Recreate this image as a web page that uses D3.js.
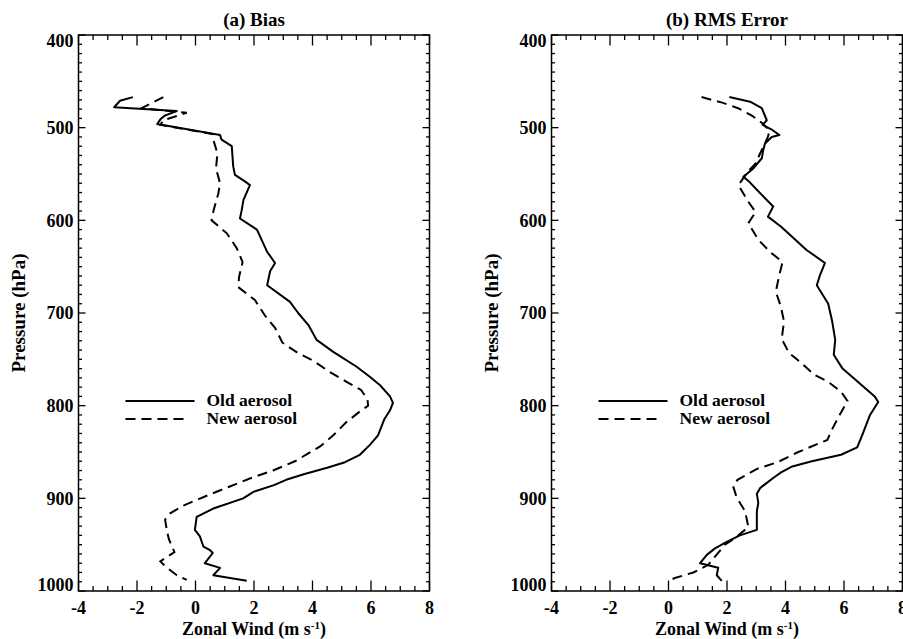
<!DOCTYPE html>
<html>
<head>
<meta charset="utf-8">
<script src="https://cdn.jsdelivr.net/npm/d3@7"></script>
<style>
  body { margin: 0; background: #fff; }
  svg { display: block; }
  text { font-family: "Liberation Serif", "Times New Roman", serif; font-weight: bold; fill: #000; }
</style>
</head>
<body>
<div id="chart"></div>
<script>
'use strict';

// Pressure levels (hPa) and zonal wind (m/s), as [p, u] pairs
const biasOld = [
  [467, -2.14], [471, -2.58], [478, -2.78], [482, -0.64], [487, -1.05], [491, -1.2],
  [496, -1.31], [508, 0.84], [513, 0.89], [520, 1.24], [542, 1.29], [551, 1.35],
  [558, 1.69], [562, 1.86], [578, 1.64], [589, 1.58], [598, 1.52], [610, 2.1],
  [634, 2.45], [646, 2.72], [655, 2.55], [670, 2.45], [688, 3.23], [700, 3.51],
  [713, 3.86], [729, 4.14], [742, 4.71], [758, 5.51], [769, 5.97], [778, 6.31],
  [790, 6.65], [797, 6.75], [805, 6.65], [815, 6.45], [832, 6.24], [842, 5.97],
  [853, 5.62], [861, 5.11], [867, 4.5], [874, 3.7], [880, 3.1], [886, 2.66],
  [893, 1.98], [900, 1.63], [911, 0.61], [920, 0.04], [934, -0.02], [941, 0.15],
  [952, 0.27], [956, 0.5], [959, 0.59], [970, 0.32], [975, 0.84], [983, 0.61],
  [989, 1.75]
];
const biasNew = [
  [467, -1.1], [479, -1.84], [484, -0.3], [492, -1.1], [497, -1.2], [507, 0.6],
  [513, 0.61], [528, 0.75], [544, 0.7], [560, 0.84], [571, 0.78], [589, 0.62],
  [600, 0.55], [614, 1.07], [630, 1.41], [645, 1.61], [661, 1.49], [672, 1.46],
  [686, 2.03], [703, 2.38], [716, 2.72], [732, 2.97], [743, 3.49], [752, 4.05],
  [763, 4.56], [774, 5.15], [783, 5.66], [793, 5.88], [800, 5.9], [807, 5.59],
  [818, 5.15], [832, 4.71], [844, 4.26], [860, 3.4], [870, 2.65], [878, 1.9],
  [888, 1.11], [898, 0.32], [908, -0.43], [917, -0.91], [923, -1.04], [936, -0.97],
  [944, -0.91], [958, -0.72], [968, -1.2], [974, -1.01], [983, -0.64], [988, -0.3]
];
const rmsOld = [
  [467, 2.08], [472, 2.79], [479, 3.19], [492, 3.36], [497, 3.22], [502, 3.53],
  [508, 3.79], [510, 3.53], [517, 3.3], [524, 3.24], [533, 3.19], [544, 2.9],
  [553, 2.56], [558, 2.75], [567, 3.02], [578, 3.36], [585, 3.58], [596, 3.4],
  [607, 3.85], [632, 4.72], [646, 5.35], [659, 5.18], [670, 5.07], [690, 5.46],
  [708, 5.59], [729, 5.7], [745, 5.65], [760, 5.95], [775, 6.5], [790, 7.05],
  [796, 7.17], [810, 6.89], [832, 6.62], [845, 6.45], [853, 5.9], [860, 4.9],
  [866, 4.2], [872, 3.85], [878, 3.58], [889, 3.13], [895, 3.02], [905, 3.07],
  [914, 3.02], [934, 3.02], [940, 2.44], [947, 1.99], [954, 1.59], [961, 1.31],
  [970, 1.08], [975, 1.7], [983, 1.65], [989, 1.82]
];
const rmsNew = [
  [467, 1.13], [473, 1.84], [479, 2.38], [487, 2.85], [495, 3.2], [503, 3.45],
  [510, 3.4], [520, 3.25], [530, 3.1], [537, 3.03], [548, 2.7], [562, 2.39],
  [580, 2.73], [591, 2.98], [603, 2.73], [621, 3.07], [634, 3.47], [645, 3.9],
  [660, 3.78], [677, 3.67], [693, 3.84], [709, 3.95], [728, 3.87], [743, 4.12],
  [755, 4.58], [767, 5.0], [774, 5.45], [785, 5.9], [795, 6.12], [810, 5.85],
  [825, 5.6], [837, 5.43], [850, 4.44], [861, 3.73], [868, 3.04], [880, 2.36],
  [887, 2.21], [899, 2.33], [914, 2.62], [931, 2.73], [943, 2.27], [950, 1.93],
  [963, 1.59], [972, 1.35], [980, 0.85], [986, 0.22], [989, 0.0]
];

const panelTitles = ["(a) Bias", "(b) RMS Error"];
const legendNames = ["Old aerosol", "New aerosol"];
const xTicks = [-4, -2, 0, 2, 4, 6, 8];
const yTicks = [400, 500, 600, 700, 800, 900, 1000];

const width = 903, height = 639;
const plotTop = 35, plotBottom = 591;
const panelLefts = [78.5, 551.5];
const panelWidth = 351;
const dash = "10,6";

const svg = d3.select("#chart").append("svg")
  .attr("width", width)
  .attr("height", height);

function drawPanel(left, title, oldData, newData) {
  const x = d3.scaleLinear().domain([-4, 8]).range([left, left + panelWidth]);
  const y = d3.scaleLinear().domain([400, 1000]).range([plotTop, plotBottom]);
  const g = svg.append("g");

  // minor ticks every 0.5 m/s and 10 hPa
  const xMinor = d3.range(-4, 8.01, 0.5).filter(v => v % 2 !== 0);
  const yMinor = d3.range(400, 1001, 10).filter(v => v % 100 !== 0);

  const tickG = g.append("g").attr("stroke", "#000").attr("stroke-width", 1.3);
  const xt = xTicks.map(v => [v, 10.5]).concat(xMinor.map(v => [v, 5]));
  const yt = yTicks.map(v => [v, 7]).concat(yMinor.map(v => [v, 3.5]));
  xt.forEach(([v, len]) => {
    tickG.append("line").attr("x1", x(v)).attr("x2", x(v)).attr("y1", plotBottom).attr("y2", plotBottom - len);
    tickG.append("line").attr("x1", x(v)).attr("x2", x(v)).attr("y1", plotTop).attr("y2", plotTop + len);
  });
  yt.forEach(([v, len]) => {
    tickG.append("line").attr("y1", y(v)).attr("y2", y(v)).attr("x1", left).attr("x2", left + len);
    tickG.append("line").attr("y1", y(v)).attr("y2", y(v)).attr("x1", left + panelWidth).attr("x2", left + panelWidth - len);
  });

  // frame
  g.append("rect")
    .attr("x", left).attr("y", plotTop)
    .attr("width", panelWidth).attr("height", plotBottom - plotTop)
    .attr("fill", "none").attr("stroke", "#000").attr("stroke-width", 1.5);

  // tick labels
  g.selectAll(".xl").data(xTicks).enter().append("text")
    .attr("x", d => x(d)).attr("y", 614)
    .attr("text-anchor", "middle")
    .style("font-size", "18px")
    .text(d => d);
  g.selectAll(".yl").data(yTicks).enter().append("text")
    .attr("x", left - 5)
    .attr("y", d => Math.min(Math.max(y(d), plotTop + 6), plotBottom - 6))
    .attr("dy", "0.35em")
    .attr("text-anchor", "end")
    .style("font-size", "18px")
    .text(d => d);

  // titles
  g.append("text")
    .attr("x", left + panelWidth / 2).attr("y", 26)
    .attr("text-anchor", "middle")
    .style("font-size", "19px")
    .text(title);

  const xTitle = g.append("text")
    .attr("x", left + panelWidth / 2).attr("y", 635)
    .attr("text-anchor", "middle")
    .style("font-size", "18px");
  xTitle.append("tspan").text("Zonal Wind (m s");
  xTitle.append("tspan").attr("dy", -6).style("font-size", "11px").text("-1");
  xTitle.append("tspan").attr("dy", 6).text(")");

  g.append("text")
    .attr("transform", `translate(${left - 54},${(plotTop + plotBottom) / 2}) rotate(-90)`)
    .attr("text-anchor", "middle")
    .style("font-size", "19px")
    .text("Pressure (hPa)");

  // profiles
  const line = d3.line().x(d => x(d[1])).y(d => y(d[0]));
  g.append("path").datum(oldData)
    .attr("d", line)
    .attr("fill", "none").attr("stroke", "#000").attr("stroke-width", 2)
    .attr("stroke-linejoin", "round");
  g.append("path").datum(newData)
    .attr("d", line)
    .attr("fill", "none").attr("stroke", "#000").attr("stroke-width", 2)
    .attr("stroke-dasharray", dash);

  // legend
  const lx = left + 47;
  g.append("line").attr("x1", lx).attr("x2", lx + 69).attr("y1", 401).attr("y2", 401)
    .attr("stroke", "#000").attr("stroke-width", 2);
  g.append("line").attr("x1", lx).attr("x2", lx + 63).attr("y1", 419).attr("y2", 419)
    .attr("stroke", "#000").attr("stroke-width", 2).attr("stroke-dasharray", dash);
  g.append("text").attr("x", lx + 81).attr("y", 406).style("font-size", "17.5px").text(legendNames[0]);
  g.append("text").attr("x", lx + 81).attr("y", 424).style("font-size", "17.5px").text(legendNames[1]);
}

drawPanel(panelLefts[0], panelTitles[0], biasOld, biasNew);
drawPanel(panelLefts[1], panelTitles[1], rmsOld, rmsNew);
</script>
</body>
</html>
